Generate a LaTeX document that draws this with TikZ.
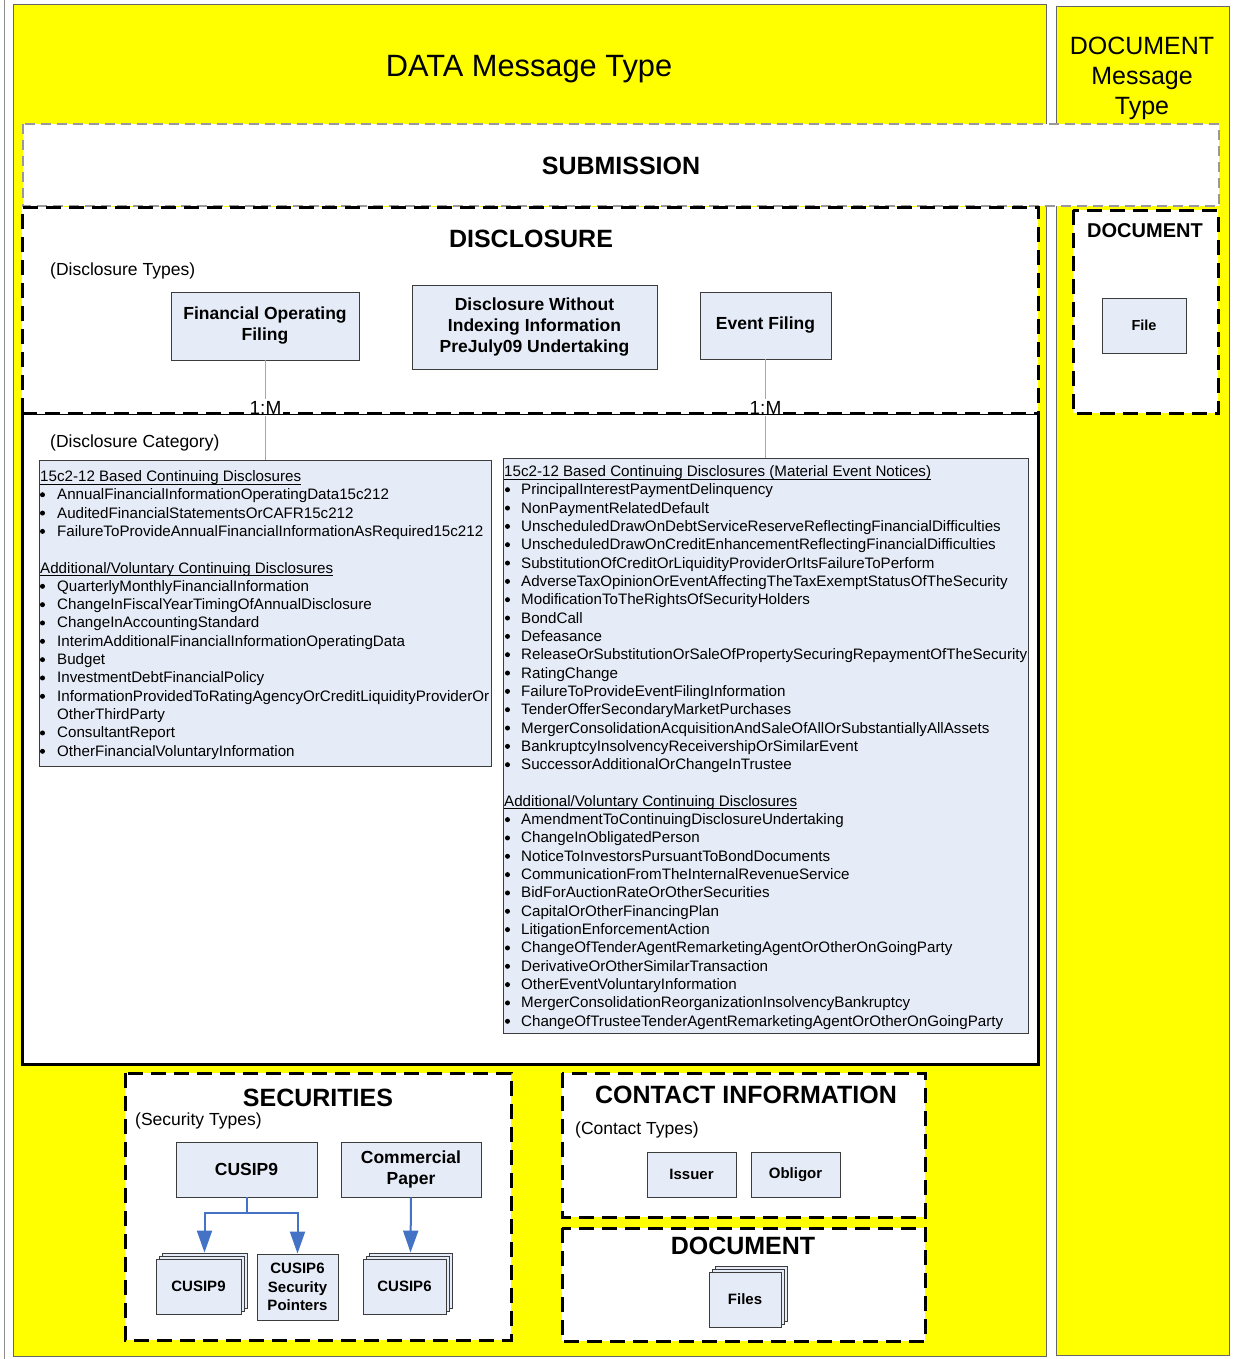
\documentclass[tikz,border=0pt]{standalone}
\usepackage{fontspec}
\setmainfont{Liberation Sans}
\usetikzlibrary{arrows.meta}
\definecolor{yel}{RGB}{255,255,0}
\definecolor{bfill}{RGB}{230,236,247}
\definecolor{bdraw}{RGB}{60,60,60}
\definecolor{conn}{RGB}{140,170,220}
\definecolor{arrblue}{RGB}{68,114,196}
\begin{document}
\begin{tikzpicture}[x=1pt,y=-1pt,
  ybox/.style={fill=yel, draw=black!60, line width=1pt},
  dline/.style={draw=black, line width=3pt, dash pattern=on 15pt off 8pt},
  tbox/.style={draw=bdraw, fill=bfill, line width=0.9pt, font=\bfseries\fontsize{17.5}{21}\selectfont, align=center, inner sep=0pt},
  sbox/.style={draw=bdraw, fill=bfill, line width=0.9pt, font=\bfseries\fontsize{15}{18.5}\selectfont, align=center, inner sep=0pt},
  lbox/.style={draw=bdraw, fill=bfill, line width=0.9pt, inner sep=0pt},
  li/.style={font=\fontsize{15.15}{18}\selectfont, inner sep=0pt, anchor=base west},
  bul/.style={circle, fill=black, inner sep=0pt, minimum size=5pt},
  ttl/.style={font=\bfseries\fontsize{25}{30}\selectfont, inner sep=0pt},
  sub/.style={font=\fontsize{17.5}{21}\selectfont, inner sep=0pt, anchor=west},
  conline/.style={draw=conn, line width=1pt},
  card/.style={font=\fontsize{19}{22}\selectfont, fill=white, inner sep=1.5pt, anchor=base},
  arr/.style={draw=arrblue, line width=2pt, -{Triangle[width=15pt,length=22pt]}},
  bl/.style={draw=arrblue, line width=2pt}
]
\useasboundingbox (0,0) rectangle (1239,1359);
\fill[white] (0,0) rectangle (1239,1359);
\draw[black!45, line width=1pt] (4,0) -- (4,1359);

% message type areas
\path[ybox] (13,5) rectangle (1046,1356);
\path[ybox] (1056,7) rectangle (1229,1355);
\node[font=\fontsize{30.8}{36}\selectfont, inner sep=0pt] (datat) at (529,69) {DATA Message Type};
\node[font=\fontsize{25}{30}\selectfont, align=center, inner sep=0pt] (doct) at (1142,78) {DOCUMENT\\Message\\Type};

% submission
\path[fill=white, draw=black!40, line width=1.5pt, dash pattern=on 10pt off 6pt] (23,124) rectangle (1219,206);
\node[ttl] (subm) at (621,166) {SUBMISSION};

% disclosure areas (fills)
\fill[white] (22,207) rectangle (1038,1064);
\fill[white] (1073,210) rectangle (1218,413);

% type boxes
\node[tbox, minimum width=188pt, minimum height=68pt] (fof) at (265,326) {Financial Operating\\Filing};
\node[tbox, minimum width=245pt, minimum height=84pt] (dwi) at (534.5,327) {Disclosure Without\\Indexing Information\\PreJuly09 Undertaking};
\node[tbox, minimum width=131pt, minimum height=67pt] (ef) at (765.5,325.5) {Event Filing};

% list boxes
\node[lbox, minimum width=452pt, minimum height=306pt] (llist) at (265,613) {};
\node[lbox, minimum width=525pt, minimum height=575pt] (rlist) at (765.5,745.5) {};

% connectors
\draw[conline] (fof.south) -- (llist.north);
\draw[conline] (ef.south) -- (rlist.north);

% disclosure borders
\draw[dline] (22,413) -- (22,207) -- (1038,207) -- (1038,413);
\draw[dline] (22,413) -- (1038,413);
\draw[black, line width=3pt] (22,413) -- (22,1064) -- (1038,1064) -- (1038,413);
\draw[dline] (1073,210) rectangle (1218,413);

% cardinality labels
\node[card] (m1) at (265.5,414) {1:M};
\node[card] (m2) at (765.5,414) {1:M};
\draw[black, line width=1pt] (22,414.5) -- (1038,414.5);

\node[ttl] (disct) at (531,239) {DISCLOSURE};
\node[sub] (dtypes) at (50,271) {(Disclosure Types)};
\node[sub] (dcat) at (50,443) {(Disclosure Category)};

\node[font=\bfseries\fontsize{20}{24}\selectfont, inner sep=0pt] (doc1t) at (1145,231) {DOCUMENT};
\node[sbox, font=\bfseries\fontsize{14.5}{18}\selectfont, minimum width=84pt, minimum height=55pt] (file) at (1144,325.5) {File};

% left list text
\node[li] (lh1) at (40,481.4) {15c2-12 Based Continuing Disclosures};
\draw[line width=0.8pt] ([yshift=-2.5pt]lh1.base west) -- ([yshift=-2.5pt]lh1.base east);
\foreach \t [count=\i] in {AnnualFinancialInformationOperatingData15c212,AuditedFinancialStatementsOrCAFR15c212,FailureToProvideAnnualFinancialInformationAsRequired15c212}{
  \node[bul] (lb\i) at (42.5,{476.4+18.33*\i}) {};
  \node[li] (la\i) at (57,{481.4+18.33*\i}) {\t};
}
\node[li] (lh2) at (40,573) {Additional/Voluntary Continuing Disclosures};
\draw[line width=0.8pt] ([yshift=-2.5pt]lh2.base west) -- ([yshift=-2.5pt]lh2.base east);
\foreach \t [count=\i] in {QuarterlyMonthlyFinancialInformation,ChangeInFiscalYearTimingOfAnnualDisclosure,ChangeInAccountingStandard,InterimAdditionalFinancialInformationOperatingData,Budget,InvestmentDebtFinancialPolicy,InformationProvidedToRatingAgencyOrCreditLiquidityProviderOr}{
  \node[bul] (lc\i) at (42.5,{568+18.33*\i}) {};
  \node[li] (ld\i) at (57,{573+18.33*\i}) {\t};
}
\node[li] (ld8) at (57,{573+18.33*8}) {OtherThirdParty};
\node[bul] (lc9) at (42.5,{568+18.33*9}) {};
\node[li] (ld9) at (57,{573+18.33*9}) {ConsultantReport};
\node[bul] (lc10) at (42.5,{568+18.33*10}) {};
\node[li] (ld10) at (57,{573+18.33*10}) {OtherFinancialVoluntaryInformation};

% right list text
\node[li] (rh1) at (504,476.4) {15c2-12 Based Continuing Disclosures (Material Event Notices)};
\draw[line width=0.8pt] ([yshift=-2.5pt]rh1.base west) -- ([yshift=-2.5pt]rh1.base east);
\foreach \t [count=\i] in {PrincipalInterestPaymentDelinquency,NonPaymentRelatedDefault,UnscheduledDrawOnDebtServiceReserveReflectingFinancialDifficulties,UnscheduledDrawOnCreditEnhancementReflectingFinancialDifficulties,SubstitutionOfCreditOrLiquidityProviderOrItsFailureToPerform,AdverseTaxOpinionOrEventAffectingTheTaxExemptStatusOfTheSecurity,ModificationToTheRightsOfSecurityHolders,BondCall,Defeasance,ReleaseOrSubstitutionOrSaleOfPropertySecuringRepaymentOfTheSecurity,RatingChange,FailureToProvideEventFilingInformation,TenderOfferSecondaryMarketPurchases,MergerConsolidationAcquisitionAndSaleOfAllOrSubstantiallyAllAssets,BankruptcyInsolvencyReceivershipOrSimilarEvent,SuccessorAdditionalOrChangeInTrustee}{
  \node[bul] (rb\i) at (507.5,{471.4+18.33*\i}) {};
  \node[li] (ra\i) at (521,{476.4+18.33*\i}) {\t};
}
\node[li] (rh2) at (504,806.3) {Additional/Voluntary Continuing Disclosures};
\draw[line width=0.8pt] ([yshift=-2.5pt]rh2.base west) -- ([yshift=-2.5pt]rh2.base east);
\foreach \t [count=\i] in {AmendmentToContinuingDisclosureUndertaking,ChangeInObligatedPerson,NoticeToInvestorsPursuantToBondDocuments,CommunicationFromTheInternalRevenueService,BidForAuctionRateOrOtherSecurities,CapitalOrOtherFinancingPlan,LitigationEnforcementAction,ChangeOfTenderAgentRemarketingAgentOrOtherOnGoingParty,DerivativeOrOtherSimilarTransaction,OtherEventVoluntaryInformation,MergerConsolidationReorganizationInsolvencyBankruptcy,ChangeOfTrusteeTenderAgentRemarketingAgentOrOtherOnGoingParty}{
  \node[bul] (rc\i) at (507.5,{801.3+18.33*\i}) {};
  \node[li] (rd\i) at (521,{806.3+18.33*\i}) {\t};
}

% securities
\path[fill=white] (125,1073) rectangle (511,1340);
\draw[dline] (125,1073) rectangle (511,1340);
\node[ttl] (sect) at (318,1098) {SECURITIES};
\node[sub] (stypes) at (135,1121) {(Security Types)};
\node[tbox, minimum width=141pt, minimum height=55pt] (c9top) at (246.5,1169.5) {CUSIP9};
\node[tbox, minimum width=140pt, minimum height=55pt] (cp) at (411,1169.5) {Commercial\\Paper};

\node[sbox, minimum width=85pt, minimum height=55pt] (c9b2) at (204.5,1280.5) {};
\node[sbox, minimum width=85pt, minimum height=55pt] (c9b1) at (201.5,1283.5) {};
\node[sbox, minimum width=85pt, minimum height=55pt] (c9s) at (198.5,1286.5) {CUSIP9};
\node[sbox, minimum width=81pt, minimum height=66pt] (csp) at (297.5,1287) {CUSIP6\\Security\\Pointers};
\node[sbox, minimum width=83pt, minimum height=55pt] (c6b2) at (410.5,1280.5) {};
\node[sbox, minimum width=83pt, minimum height=55pt] (c6b1) at (407.5,1283.5) {};
\node[sbox, minimum width=83pt, minimum height=55pt] (c6s) at (404.5,1286.5) {CUSIP6};

\draw[bl] (c9top.south) -- ++(0,16) coordinate (c9j);
\draw[arr] (c9j) -| (c9b2.north);
\draw[arr] (c9j) -| (csp.north);
\draw[arr] (cp.south) -- (c6b2.north);

% contact information
\path[fill=white] (562,1073) rectangle (925,1217);
\draw[dline] (562,1073) rectangle (925,1217);
\node[ttl] (cont) at (746,1095) {CONTACT INFORMATION};
\node[sub] (ctypes) at (575,1130) {(Contact Types)};
\node[sbox, minimum width=89pt, minimum height=45pt] (iss) at (691.5,1174.5) {Issuer};
\node[sbox, minimum width=89pt, minimum height=45pt] (obl) at (795.5,1174.5) {Obligor};

% document
\path[fill=white] (562,1228) rectangle (925,1341);
\draw[dline] (562,1228) rectangle (925,1341);
\node[ttl] (doc2t) at (743,1246) {DOCUMENT};
\node[sbox, minimum width=72pt, minimum height=55pt] (fb2) at (751,1293.5) {};
\node[sbox, minimum width=72pt, minimum height=55pt] (fb1) at (748,1296.5) {};
\node[sbox, minimum width=72pt, minimum height=55pt] (files) at (745,1299.5) {Files};
\end{tikzpicture}
\end{document}
